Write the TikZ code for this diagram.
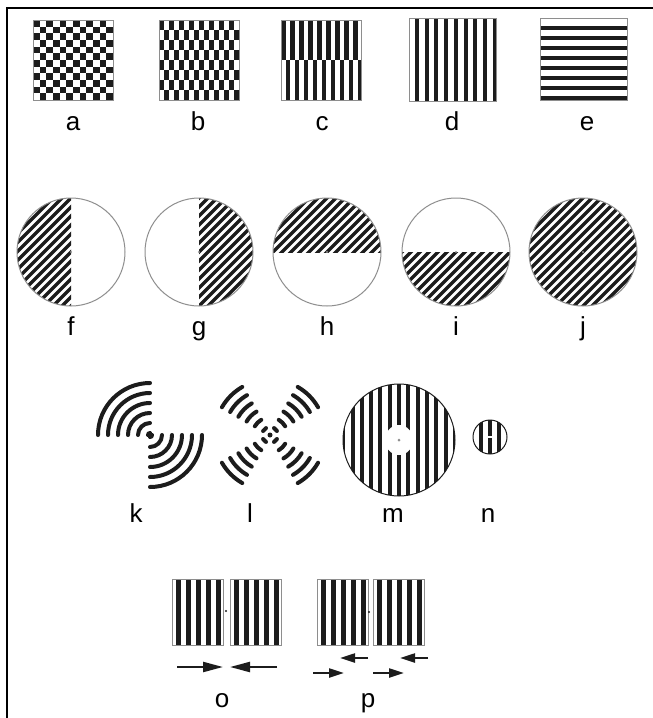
\documentclass[tikz,border=0pt]{standalone}
\usepackage{fontspec}
\setmainfont{Liberation Sans}
\usetikzlibrary{arrows.meta}
\definecolor{ink}{HTML}{1C1C1C}
\definecolor{rimgray}{HTML}{8E8E8E}
\tikzset{
  lbl/.style={font=\fontsize{26}{26}\selectfont, inner sep=0pt, anchor=base},
  rim/.style={draw=rimgray, line width=1pt},
  hatch/.style={draw=ink, line width=3.2pt},
  ring/.style={draw=ink, line width=4pt, line cap=round},
  fix/.style={fill=rimgray},
  arr/.style={-{Triangle[length=20pt,width=10pt]}, line width=2.2pt, ink},
  sarr/.style={-{Triangle[length=15pt,width=9pt]}, line width=2.2pt, ink},
}

\begin{document}
\begin{tikzpicture}[x=1pt, y=-1pt]
  \useasboundingbox (0,0) rectangle (653,718);
  \fill[white] (0,0) rectangle (653,718);
  \draw[line width=2pt] (7,718) -- (7,8) -- (653,8);

  % top row
  \foreach \i [evaluate=\i as \o using {int(mod(\i,2))}] in {0,...,11}
    \foreach \j in {0,2,...,10}
      \fill[ink] ({33+\i*80/12},{20+(\j+\o)*80/12}) rectangle ++(6.67,6.67);
  \draw[rim] (33,20) rectangle (113,100);
  \foreach \i [evaluate=\i as \o using {int(mod(\i,2))}] in {0,...,15}
    \foreach \j in {0,2,4,6}
      \fill[ink] ({159+\i*5},{20+(\j+\o)*10}) rectangle ++(5,10);
  \draw[rim] (159,20) rectangle (239,100);
  \foreach \i in {0,...,8} {
    \fill[ink] ({281+\i*9},20) rectangle ++(4.5,40);
    \fill[ink] ({285.5+\i*9},60) rectangle ++(4.5,40);
  }
  \draw[rim] (281,20) rectangle (361,100);
  \foreach \i in {0,...,8}
    \fill[ink] ({415+\i*9.7},18) rectangle ++(4,83);
  \draw[rim] (409,18) rectangle (496,101);
  \foreach \i in {0,...,7}
    \fill[ink] (540,{26+\i*10}) rectangle ++(87,4);
  \draw[rim] (540,18) rectangle (627,100);
  \foreach \x/\name in {73/a, 198/b, 322/c, 452/d, 587/e}
    \node[lbl] (lbl-\name) at (\x,130) {\name};

  % circles
  \foreach \cx/\xa/\ya/\xb/\yb/\name in {71/-60/-60/0/60/f, 199/0/-60/60/60/g,
      327/-60/-60/60/0/h, 456/-60/0/60/60/i, 583/-60/-60/60/60/j} {
    \begin{scope}
      \clip (\cx,252) circle[radius=54];
      \clip ({\cx+\xa},{252+\ya}) rectangle ({\cx+\xb},{252+\yb});
      \foreach \k in {-10,...,10}
        \draw[hatch] ({\cx+\k*9-60},312) -- ({\cx+\k*9+60},192);
    \end{scope}
    \draw[rim] (\cx,252) circle[radius=54];
    \fill[fix] (\cx,252) circle[radius=1.2];
    \node[lbl] (lbl-\name) at (\cx,335) {\name};
  }

  % third row
  \foreach \r in {2,12,22,32,42,52} {
    \draw[ring] (150,435) ++(180:\r) arc[start angle=180, end angle=270, radius=\r];
    \draw[ring] (150,435) ++(0:\r) arc[start angle=0, end angle=90, radius=\r];
  }
  \foreach \a in {45,135,225,315}
    \foreach \r in {8,17.5,27,36.5,46,55.5}
      \draw[ring] (270,435) ++({\a-15}:\r) arc[start angle=\a-15, end angle=\a+15, radius=\r];
  \fill[ink] (270,435) circle[radius=2.5];
  \begin{scope}
    \clip (399,440) circle[radius=56];
    \foreach \i in {-6,...,6}
      \fill[ink] ({399+\i*9.3-2},384) rectangle ++(4,112);
  \end{scope}
  \draw[ink, line width=1pt] (399,440) circle[radius=56];
  \fill[white] (399,440) ellipse[x radius=14, y radius=15];
  \fill[fix] (399,440) circle[radius=1.5];
  \begin{scope}
    \clip (490,437) circle[radius=17];
    \foreach \i in {-2,...,2}
      \fill[ink] ({490+\i*9.3-2},420) rectangle ++(4,34);
  \end{scope}
  \draw[ink, line width=1pt] (490,437) circle[radius=17];
  \draw[white, line width=1.2pt] (486,437) -- (494,437);
  \foreach \x/\name in {136/k, 250/l, 393/m, 488/n}
    \node[lbl] (lbl-\name) at (\x,522) {\name};

  % bottom row
  \foreach \sx in {172,230,317,373} {
    \foreach \i in {0,...,4}
      \fill[ink] ({\sx+4+\i*10},579) rectangle ++(4.5,66);
    \draw[rim] (\sx,579) rectangle ++(51,66);
  }
  \fill[ink] (226,611) circle[radius=1.2];
  \fill[ink] (369,612) circle[radius=1.2];
  \coordinate (o1s) at (177,667); \coordinate (o1e) at (223,667);
  \coordinate (o2s) at (277,667); \coordinate (o2e) at (230,667);
  \draw[arr] (o1s) -- (o1e);
  \draw[arr] (o2s) -- (o2e);
  \coordinate (p1s) at (368,658); \coordinate (p1e) at (340,658);
  \coordinate (p2s) at (428,658); \coordinate (p2e) at (400,658);
  \coordinate (p3s) at (313,673); \coordinate (p3e) at (344,673);
  \coordinate (p4s) at (373,673); \coordinate (p4e) at (404,673);
  \foreach \n in {1,...,4}
    \draw[sarr] (p\n s) -- (p\n e);
  \node[lbl] (lbl-o) at (222,707) {o};
  \node[lbl] (lbl-p) at (368,707) {p};
\end{tikzpicture}
\end{document}
